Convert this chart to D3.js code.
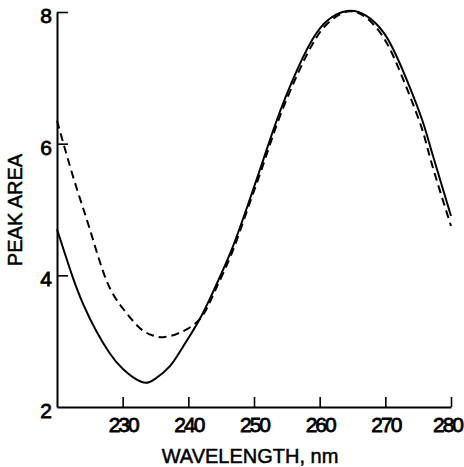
<!DOCTYPE html>
<html>
<head>
<meta charset="utf-8">
<script src="https://cdn.jsdelivr.net/npm/d3@7"></script>
<style>
  body { margin: 0; background: #fff; }
  text { font-family: "Liberation Sans", Arial, Helvetica, sans-serif; fill: #000; }
</style>
</head>
<body>
<div id="chart"></div>
<script>
var width = 464, height = 467;
var padding = { t: 12, r: 13, b: 60, l: 57 };

// solid curve
var wlSolid = [220, 222.3, 224, 226, 228, 230, 232.9, 235, 237.2, 239.1, 241.7, 244, 246.6, 249, 251.4, 254, 257.4, 260.1, 262.5, 264.7, 267, 269.8, 272.5, 275.4, 277, 280];
var areaSolid = [4.7, 4.0, 3.56, 3.15, 2.82, 2.58, 2.38, 2.43, 2.62, 2.9, 3.33, 3.8, 4.39, 5.05, 5.75, 6.5, 7.3, 7.76, 7.96, 8.02, 7.95, 7.68, 7.15, 6.42, 5.9, 4.9];

// dashed curve
var wlDash = [220, 222.6, 225, 227.5, 230, 232.6, 234.5, 236.1, 238.5, 241.7, 244, 246.6, 249, 251.4, 254, 257.4, 260.1, 262.5, 264.7, 267, 269.8, 272.5, 275.4, 277, 280];
var areaDash = [6.35, 5.45, 4.7, 3.93, 3.5, 3.2, 3.09, 3.06, 3.12, 3.33, 3.75, 4.33, 5.0, 5.68, 6.43, 7.22, 7.7, 7.93, 8.01, 7.92, 7.6, 7.03, 6.28, 5.72, 4.75];

var xTicks = [230, 240, 250, 260, 270, 280];
var yTicks = [2, 4, 6, 8];

var x = d3.scaleLinear().domain([220, 280]).range([padding.l, width - padding.r]);
var y = d3.scaleLinear().domain([2, 8]).range([height - padding.b, padding.t]);

var svg = d3.select("#chart").append("svg")
    .attr("width", width)
    .attr("height", height);

// x axis, ticks point up into the plot
var xAxis = svg.append("g")
    .attr("transform", `translate(0, ${y(2)})`)
    .call(d3.axisBottom(x).tickValues(xTicks).tickSizeInner(-10).tickSizeOuter(0).tickPadding(10).tickFormat(d3.format("d")));

// y axis, ticks point right
var yAxis = svg.append("g")
    .attr("transform", `translate(${x(220)}, 0)`)
    .call(d3.axisLeft(y).tickValues(yTicks).tickSizeInner(-11).tickSizeOuter(0).tickPadding(5).tickFormat(d3.format("d")));

[xAxis, yAxis].forEach(g => {
    g.select(".domain").attr("stroke", "#000").attr("stroke-width", 2);
    g.selectAll(".tick line").attr("stroke", "#000").attr("stroke-width", 1.6);
    g.selectAll(".tick text")
        .style("font-size", "21px")
        .style("font-family", "'Liberation Sans', Arial, sans-serif")
        .style("stroke", "#000")
        .style("stroke-width", "0.8px");
});
xAxis.selectAll(".tick text").style("letter-spacing", "-2px");
// last label sits a little left, as in the print
xAxis.selectAll(".tick").filter(d => d === 280).select("text").attr("x", -4);
yAxis.selectAll(".tick text").attr("dy", "0.5em");
// no tick mark drawn at the corner value 2
yAxis.selectAll(".tick").filter(d => d === 2).select("line").remove();

var line = d3.line()
    .x(d => x(d[0]))
    .y(d => y(d[1]))
    .curve(d3.curveNatural);

svg.append("path")
    .datum(d3.zip(wlDash, areaDash))
    .attr("d", line)
    .attr("fill", "none")
    .attr("stroke", "#000")
    .attr("stroke-width", 2)
    .attr("stroke-dasharray", "8,5");

svg.append("path")
    .datum(d3.zip(wlSolid, areaSolid))
    .attr("d", line)
    .attr("fill", "none")
    .attr("stroke", "#000")
    .attr("stroke-width", 2);

// axis titles
svg.append("text")
    .attr("x", 250)
    .attr("y", 463)
    .attr("text-anchor", "middle")
    .style("stroke", "#000")
    .style("stroke-width", "0.5px")
    .style("font-size", "20px")
    .text("WAVELENGTH, nm");

svg.append("text")
    .attr("transform", "translate(22, 210) rotate(-90)")
    .attr("text-anchor", "middle")
    .style("stroke", "#000")
    .style("stroke-width", "0.5px")
    .style("font-size", "20px")
    .text("PEAK AREA");
</script>
</body>
</html>
